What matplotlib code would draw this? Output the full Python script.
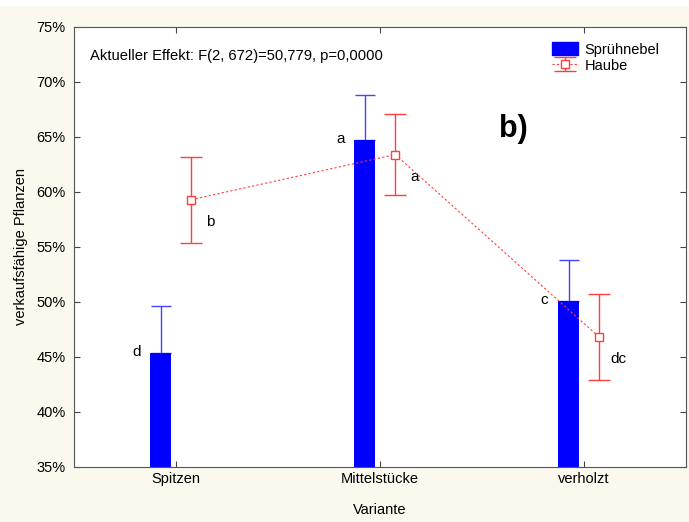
import numpy as np
import matplotlib.pyplot as plt
from matplotlib.patches import Patch, Rectangle

plt.rcParams['font.family'] = ['Liberation Sans', 'DejaVu Sans']

# Daten
categories = ["Spitzen", "Mittelstücke", "verholzt"]
spruehnebel = [45.4, 64.7, 50.1]
spruehnebel_err = [4.2, 4.1, 3.7]
haube = [59.3, 63.4, 46.8]
haube_err = [3.9, 3.7, 3.9]
labels_spruehnebel = ["d", "a", "c"]
labels_haube = ["b", "a", "dc"]
yticks = [35, 40, 45, 50, 55, 60, 65, 70, 75]

BG = '#FBF8EE'
BLUE = '#0000FF'
RED = '#FF3F3F'

fig = plt.figure(figsize=(6.89, 5.22), dpi=100, facecolor=BG)
# weisser Streifen oben
fig.patches.append(Rectangle((0, 0.988), 1, 0.012, transform=fig.transFigure,
                             facecolor='white', edgecolor='none', zorder=0))
ax = fig.add_axes([0.1074, 0.1054, 0.8882, 0.8429])
ax.set_facecolor('white')

x = np.arange(len(categories))
off = 0.075

# Balken Sprühnebel mit einseitigem Fehlerbalken
ax.bar(x - off, np.array(spruehnebel) - 35, bottom=35, width=0.1, color=BLUE, zorder=2)
ax.errorbar(x - off, spruehnebel, yerr=[np.zeros(3), spruehnebel_err], fmt='none',
            ecolor='#4444FF', elinewidth=1, capsize=7.5, capthick=1, zorder=1)

# Haube: Punkte + Fehlerbalken + gestrichelte Linie
haube_eb = ax.errorbar(x + off, haube, yerr=haube_err, color=RED, ecolor=RED,
                       linestyle=(0, (2, 2)), linewidth=0.8, elinewidth=1,
                       capsize=8, capthick=1, marker='s', markersize=6,
                       markerfacecolor='white', markeredgecolor=RED,
                       markeredgewidth=1, zorder=4)

# Buchstaben
for i in range(3):
    ax.annotate(labels_spruehnebel[i], (x[i] - off, spruehnebel[i]),
                xytext=(-24, 1), textcoords='offset pixels',
                ha='center', va='center', fontsize=11)
    ax.annotate(labels_haube[i], (x[i] + off, haube[i]),
                xytext=(19, -22), textcoords='offset pixels',
                ha='center', va='center', fontsize=11)

ax.text(0.718, 0.768, "b)", transform=ax.transAxes, fontsize=22, fontweight='bold',
        ha='center', va='center')
ax.text(0.026, 0.935, "Aktueller Effekt: F(2, 672)=50,779, p=0,0000",
        transform=ax.transAxes, fontsize=10.6, va='center')

ax.set_xlim(-0.5, 2.5)
ax.set_ylim(35, 75)
ax.set_xticks(x)
ax.set_xticklabels(categories, fontsize=10.5)
ax.set_yticks(yticks)
ax.set_yticklabels([f"{t}%" for t in yticks], fontsize=10.5)
ax.tick_params(top=True, right=True, direction='in', length=4, color='#444444')
ax.tick_params(axis='y', pad=6)
ax.set_xlabel("Variante", fontsize=10.5, labelpad=12)
ax.set_ylabel("verkaufsfähige Pflanzen", fontsize=10.5, labelpad=6)
for s in ax.spines.values():
    s.set_color('#555555')

handles = [Patch(facecolor=BLUE, edgecolor=BLUE), haube_eb]
ax.legend(handles, ["Sprühnebel", "Haube"], loc='upper right', frameon=False,
          fontsize=10.5, bbox_to_anchor=(0.978, 0.995), handlelength=1.75,
          handleheight=1.0, handletextpad=0.45, labelspacing=0.1)

fig.savefig('out.png', dpi=100, facecolor=BG)
